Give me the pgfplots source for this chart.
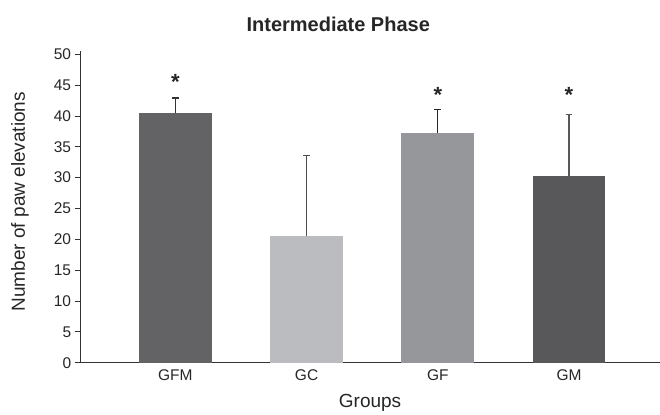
\documentclass[border=0pt]{standalone}
\usepackage{pgfplots}
\pgfplotsset{compat=1.18}
\usepackage{fontspec}
\setmainfont{Liberation Sans}
\definecolor{cGFM}{HTML}{636365}
\definecolor{cGC}{HTML}{BBBCC0}
\definecolor{cGF}{HTML}{96979B}
\definecolor{cGM}{HTML}{58585A}
\definecolor{axc}{HTML}{333333}
\begin{document}
\begin{tikzpicture}
\begin{axis}[
  scale only axis,
  width=579.3pt, height=311.8pt,
  xmin=-0.722, xmax=3.69, ymin=0, ymax=50.5,
  axis x line=bottom, axis y line=left,
  axis line style={-, line width=0.9pt, color=axc},
  xtick={0,1,2,3}, xticklabels={GFM,GC,GF,GM},
  x tick style={draw=none},
  ytick={0,5,...,50},
  tick align=outside, major tick length=6pt,
  y tick style={color=axc, line width=0.9pt},
  /pgf/number format/assume math mode=true,
  tick label style={font=\fontsize{15.5}{17}\selectfont, color=black!85},
  xticklabel style={anchor=base, yshift=-12pt},
  xlabel={Groups},
  ylabel={Number of paw elevations},
  label style={font=\fontsize{19}{21}\selectfont, color=black!85},
  xlabel style={at={(axis description cs:0.5,-0.1443)}, anchor=base},
  ylabel style={at={(axis description cs:-0.1048,0.517)}, anchor=center},
  every axis title shift=0pt,
  title={Intermediate Phase},
  title style={font=\fontsize{20}{22}\selectfont\bfseries, at={(axis description cs:0.445,1)}, anchor=base, yshift=19.5pt, color=black!85},
  clip=false,
]
\addplot[ybar, bar width=73pt, bar shift=0pt, fill=cGFM, draw=none,
  error bars/.cd, y dir=plus, y explicit,
  error bar style={line width=1.2pt, color=black!80},
  error mark options={rotate=90, mark size=3.4pt, line width=1.2pt, color=black!80}]
  coordinates {(0,40.4) +- (0,2.5)};
\addplot[ybar, bar width=73pt, bar shift=0pt, fill=cGC, draw=none,
  error bars/.cd, y dir=plus, y explicit,
  error bar style={line width=1.2pt, color=black!70},
  error mark options={rotate=90, mark size=3.4pt, line width=1.2pt, color=black!70}]
  coordinates {(1,20.5) +- (0,13.1)};
\addplot[ybar, bar width=73pt, bar shift=0pt, fill=cGF, draw=none,
  error bars/.cd, y dir=plus, y explicit,
  error bar style={line width=1.2pt, color=black!85},
  error mark options={rotate=90, mark size=3.4pt, line width=1.2pt, color=black!85}]
  coordinates {(2,37.2) +- (0,3.8)};
\addplot[ybar, bar width=73pt, bar shift=0pt, fill=cGM, draw=none,
  error bars/.cd, y dir=plus, y explicit,
  error bar style={line width=1.2pt, color=cGM},
  error mark options={rotate=90, mark size=3.4pt, line width=1.2pt, color=cGM}]
  coordinates {(3,30.3) +- (0,9.9)};
\addplot[only marks, mark=none, nodes near coords, point meta=explicit symbolic,
  nodes near coords style={anchor=center, font=\fontsize{22}{22}\selectfont\bfseries, color=black!85, yshift=-4.4pt}]
  coordinates {(0,46.2) [*] (2,44.1) [*] (3,44.1) [*]};
\end{axis}
\path[use as bounding box] (-80.7pt,-49pt) rectangle (579.3pt,363pt);
\end{tikzpicture}
\end{document}
